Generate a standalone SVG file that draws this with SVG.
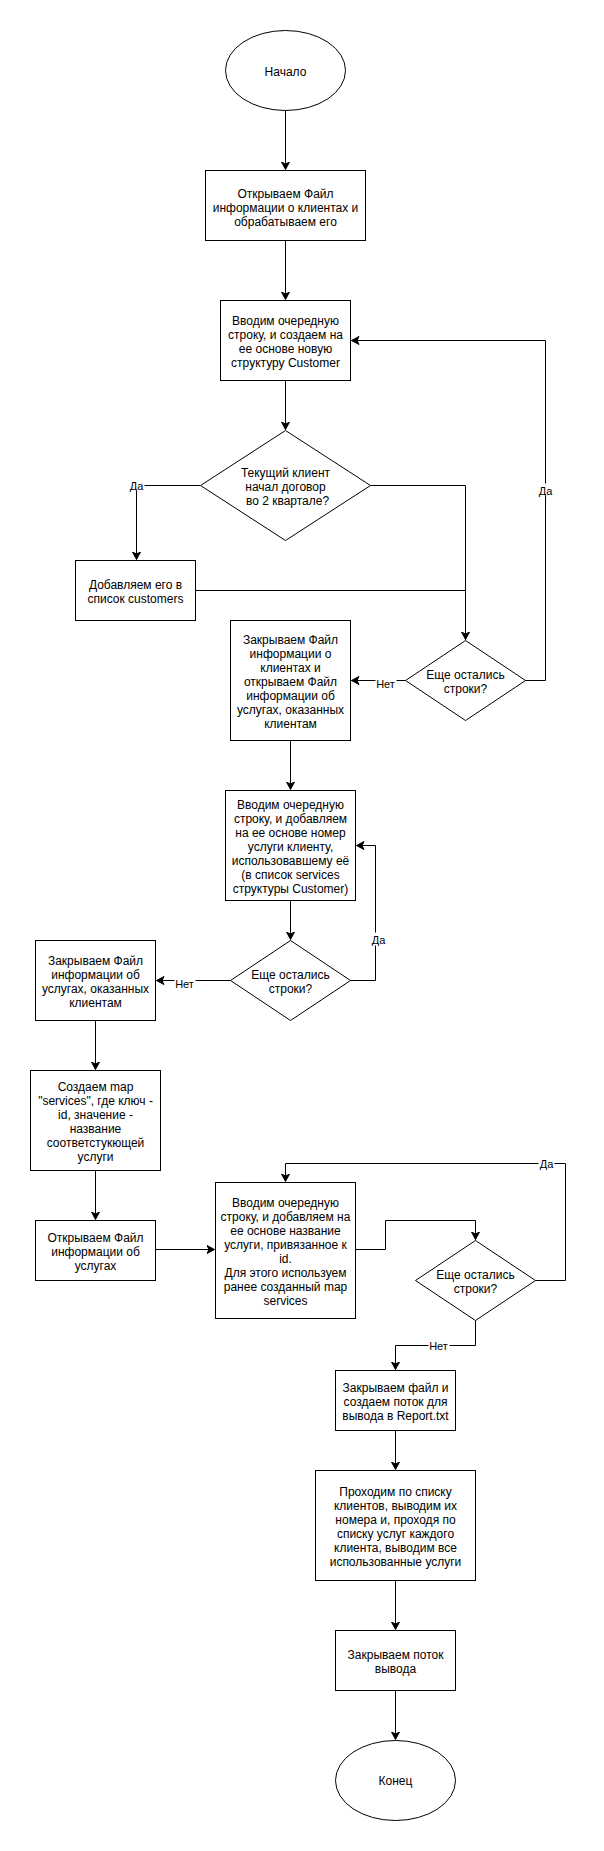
<svg xmlns="http://www.w3.org/2000/svg" width="604" height="1851" viewBox="0 0 604 1851">
<style>
.n{fill:#fff;stroke:#000;stroke-width:1}
.t{font-family:"Liberation Sans",Arial,sans-serif;font-size:12px;fill:#000;text-anchor:middle}
.l{font-family:"Liberation Sans",Arial,sans-serif;font-size:11px;fill:#000;text-anchor:middle}
.c{fill:none;stroke:#000;stroke-width:1}
.lb{fill:#fff;stroke:none}
</style>
<defs>
<marker id="arr" markerUnits="userSpaceOnUse" markerWidth="10" markerHeight="10" viewBox="0 0 10 10" refX="8" refY="5" orient="auto">
<path d="M0.5,1 L8,5 L0.5,9 L2.5,5 Z" fill="#000" stroke="#000" stroke-width="1" stroke-linejoin="miter"/>
</marker>
</defs>
<rect x="0" y="0" width="604" height="1851" fill="#fff"/>
<g transform="translate(0.5,0.5)">
<g id="connectors">
<path class="c" d="M285,110 V169" marker-end="url(#arr)"/>
<path class="c" d="M285,240 V299" marker-end="url(#arr)"/>
<path class="c" d="M285,380 V429" marker-end="url(#arr)"/>
<path class="c" d="M200,485 H136 V559" marker-end="url(#arr)"/>
<path class="c" d="M370,485 H465 V639" marker-end="url(#arr)"/>
<path class="c" d="M195,590 H465"/>
<path class="c" d="M525,680 H545 V340 H351" marker-end="url(#arr)"/>
<path class="c" d="M405,680 H351" marker-end="url(#arr)"/>
<path class="c" d="M290,740 V789" marker-end="url(#arr)"/>
<path class="c" d="M290,900 V939" marker-end="url(#arr)"/>
<path class="c" d="M350,980 H375 V845 H356" marker-end="url(#arr)"/>
<path class="c" d="M230,980 H156" marker-end="url(#arr)"/>
<path class="c" d="M95,1020 V1069" marker-end="url(#arr)"/>
<path class="c" d="M95,1170 V1219" marker-end="url(#arr)"/>
<path class="c" d="M155,1249 H214" marker-end="url(#arr)"/>
<path class="c" d="M355,1249 H385 V1220 H475 V1239" marker-end="url(#arr)"/>
<path class="c" d="M535,1280 H565 V1163 H285 V1181" marker-end="url(#arr)"/>
<path class="c" d="M475,1320 V1345 H395 V1369" marker-end="url(#arr)"/>
<path class="c" d="M395,1430 V1469" marker-end="url(#arr)"/>
<path class="c" d="M395,1580 V1629" marker-end="url(#arr)"/>
<path class="c" d="M395,1690 V1739" marker-end="url(#arr)"/>
<g id="edge-labels">
<rect class="lb" x="128" y="478" width="16" height="13"/><text class="l" x="136" y="489">Да</text>
<rect class="lb" x="537" y="483" width="16" height="13"/><text class="l" x="545" y="494">Да</text>
<rect class="lb" x="375" y="676" width="21" height="13"/><text class="l" x="385" y="687">Нет</text>
<rect class="lb" x="370" y="932" width="16" height="13"/><text class="l" x="378" y="943">Да</text>
<rect class="lb" x="174" y="976" width="21" height="13"/><text class="l" x="184" y="987">Нет</text>
<rect class="lb" x="538" y="1157" width="16" height="13"/><text class="l" x="546" y="1167">Да</text>
<rect class="lb" x="428" y="1339" width="21" height="13"/><text class="l" x="438" y="1349">Нет</text>
</g>
</g>
<g id="start"><ellipse class="n" cx="285" cy="70" rx="60" ry="40"/><text class="t" x="285" y="75">Начало</text></g>
<g id="open-customers"><rect class="n" x="205" y="170" width="160" height="70"/>
<text class="t" x="285" y="197">Открываем Файл</text><text class="t" x="285" y="211">информации о клиентах и</text><text class="t" x="285" y="225">обрабатываем его</text></g>
<g id="read-customer"><rect class="n" x="220" y="300" width="130" height="80"/>
<text class="t" x="285" y="324">Вводим очередную</text><text class="t" x="285" y="338">строку, и создаем на</text><text class="t" x="285" y="352">ее основе новую</text><text class="t" x="285" y="366">структуру Customer</text></g>
<g id="q-quarter"><polygon class="n" points="285,430 370,485 285,540 200,485"/>
<text class="t" x="285" y="476">Текущий клиент</text><text class="t" x="285" y="490">начал договор</text><text class="t" x="287" y="504">во 2 квартале?</text></g>
<g id="add-customer"><rect class="n" x="75" y="560" width="120" height="60"/>
<text class="t" x="135" y="588">Добавляем его в</text><text class="t" x="135" y="602">список customers</text></g>
<g id="q-lines-1"><polygon class="n" points="465,640 525,680 465,720 405,680"/>
<text class="t" x="465" y="678">Еще остались</text><text class="t" x="465" y="692">строки?</text></g>
<g id="close-open"><rect class="n" x="230" y="620" width="120" height="120"/>
<text class="t" x="290" y="643">Закрываем Файл</text><text class="t" x="290" y="657">информации о</text><text class="t" x="290" y="671">клиентах и</text><text class="t" x="290" y="685">открываем Файл</text><text class="t" x="290" y="699">информации об</text><text class="t" x="290" y="713">услугах, оказанных</text><text class="t" x="290" y="727">клиентам</text></g>
<g id="read-service"><rect class="n" x="225" y="790" width="130" height="110"/>
<text class="t" x="290" y="808">Вводим очередную</text><text class="t" x="290" y="822">строку, и добавляем</text><text class="t" x="290" y="836">на ее основе номер</text><text class="t" x="290" y="850">услуги клиенту,</text><text class="t" x="290" y="864">использовавшему её</text><text class="t" x="290" y="878">(в список services</text><text class="t" x="290" y="892">структуры Customer)</text></g>
<g id="q-lines-2"><polygon class="n" points="290,940 350,980 290,1020 230,980"/>
<text class="t" x="290" y="978">Еще остались</text><text class="t" x="290" y="992">строки?</text></g>
<g id="close-services"><rect class="n" x="35" y="940" width="120" height="80"/>
<text class="t" x="95" y="964">Закрываем Файл</text><text class="t" x="95" y="978">информации об</text><text class="t" x="95" y="992">услугах, оказанных</text><text class="t" x="95" y="1006">клиентам</text></g>
<g id="create-map"><rect class="n" x="30" y="1070" width="130" height="100"/>
<text class="t" x="95" y="1090">Создаем map</text><text class="t" x="95" y="1104">"services", где ключ -</text><text class="t" x="95" y="1118">id, значение -</text><text class="t" x="95" y="1132">название</text><text class="t" x="95" y="1146">соответстукющей</text><text class="t" x="95" y="1160">услуги</text></g>
<g id="open-services"><rect class="n" x="35" y="1220" width="120" height="60"/>
<text class="t" x="95" y="1241">Открываем Файл</text><text class="t" x="95" y="1255">информации об</text><text class="t" x="95" y="1269">услугах</text></g>
<g id="read-name"><rect class="n" x="215" y="1182" width="140" height="136"/>
<text class="t" x="285" y="1206">Вводим очередную</text><text class="t" x="285" y="1220">строку, и добавляем на</text><text class="t" x="285" y="1234">ее основе название</text><text class="t" x="285" y="1248">услуги, привязанное к</text><text class="t" x="285" y="1262">id.</text><text class="t" x="285" y="1276">Для этого используем</text><text class="t" x="285" y="1290">ранее созданный map</text><text class="t" x="285" y="1304">services</text></g>
<g id="q-lines-3"><polygon class="n" points="475,1240 535,1280 475,1320 415,1280"/>
<text class="t" x="475" y="1278">Еще остались</text><text class="t" x="475" y="1292">строки?</text></g>
<g id="close-file"><rect class="n" x="335" y="1370" width="120" height="60"/>
<text class="t" x="395" y="1391">Закрываем файл и</text><text class="t" x="395" y="1405">создаем поток для</text><text class="t" x="395" y="1419">вывода в Report.txt</text></g>
<g id="output"><rect class="n" x="315" y="1470" width="160" height="110"/>
<text class="t" x="395" y="1495">Проходим по списку</text><text class="t" x="395" y="1509">клиентов, выводим их</text><text class="t" x="395" y="1523">номера и, проходя по</text><text class="t" x="395" y="1537">списку услуг каждого</text><text class="t" x="395" y="1551">клиента, выводим все</text><text class="t" x="395" y="1565">использованные услуги</text></g>
<g id="close-stream"><rect class="n" x="335" y="1630" width="120" height="60"/>
<text class="t" x="395" y="1658">Закрываем поток</text><text class="t" x="395" y="1672">вывода</text></g>
<g id="end"><ellipse class="n" cx="395" cy="1780" rx="60" ry="40"/><text class="t" x="395" y="1784">Конец</text></g>
</g>
</svg>
